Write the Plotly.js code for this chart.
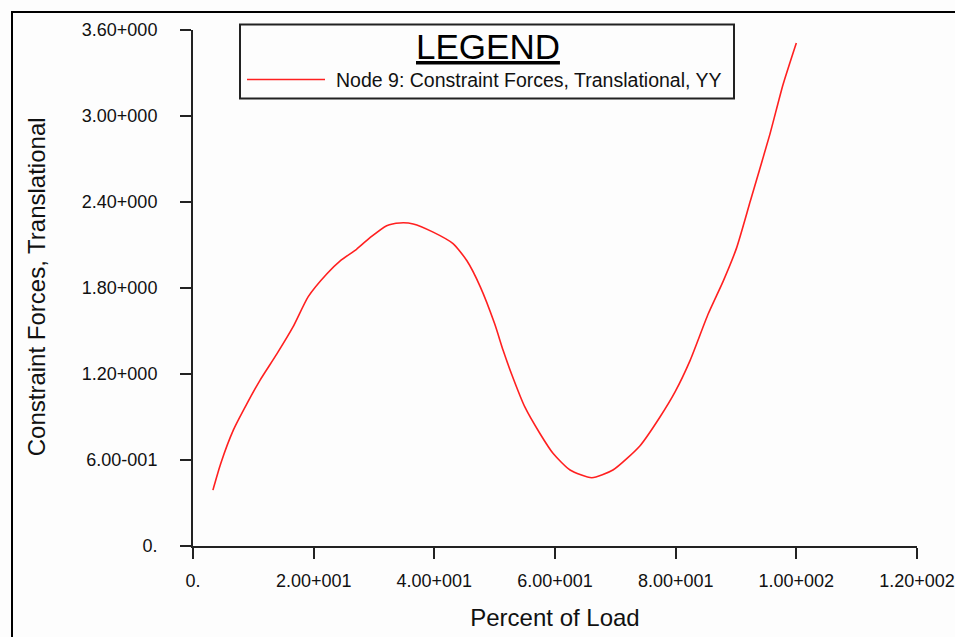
<!DOCTYPE html>
<html>
<head>
<meta charset="utf-8">
<script src="https://cdn.plot.ly/plotly-3.0.1.min.js"></script>
<style>
  html, body { margin: 0; padding: 0; background: #fdfdfd; }
  #wrap { position: relative; width: 955px; height: 637px; overflow: hidden; }
  #chart { position: absolute; left: 0; top: 0; width: 955px; height: 637px; }
  #frame { position: absolute; left: 11px; top: 11px; width: 960px; height: 640px;
           border-left: 2px solid #000; border-top: 2px solid #000; pointer-events: none; }
</style>
</head>
<body>
<div id="wrap">
  <div id="chart"></div>
  <div id="frame"></div>
</div>
<script>
// Percent of load (x) and constraint force (y)
const percentLoad = [3.3, 4.6, 6.7, 8.9, 11.1, 13.9, 16.6, 19.1, 22.2, 24.4, 27.1, 29.3, 32.1, 34.3, 36.5, 39.8, 43.1, 45.4, 47.6, 50.0, 51.4, 52.8, 55.0, 57.5, 59.7, 62.5, 66.1, 69.6, 74.1, 77.4, 79.9, 82.4, 85.4, 87.9, 90.1, 92.4, 95.6, 97.8, 100.0];
const forceYY = [0.39, 0.576, 0.81, 0.99, 1.156, 1.34, 1.53, 1.74, 1.90, 1.99, 2.07, 2.15, 2.235, 2.254, 2.247, 2.19, 2.11, 1.99, 1.81, 1.55, 1.365, 1.20, 0.97, 0.785, 0.645, 0.53, 0.476, 0.53, 0.70, 0.90, 1.075, 1.295, 1.62, 1.85, 2.08, 2.41, 2.87, 3.22, 3.51];

const seriesName = "Node 9: Constraint Forces, Translational, YY";
const xTickVals = [0, 20, 40, 60, 80, 100, 120];
const xTickText = ["0.", "2.00+001", "4.00+001", "6.00+001", "8.00+001", "1.00+002", "1.20+002"];
const yTickVals = [0, 0.6, 1.2, 1.8, 2.4, 3.0, 3.6];
const yTickText = ["0.", "6.00-001", "1.20+000", "1.80+000", "2.40+000", "3.00+000", "3.60+000"];
const xTitle = "Percent of Load";
const yTitle = "Constraint Forces, Translational";
const legendTitle = "LEGEND";

const FONT = "Liberation Sans, Arial, sans-serif";
const LINE_COLOR = "#ff2020";

// plot-area geometry (pixels) used to place the hand-drawn legend box and y title
const PL = 193, PW = 724, PB = 546, PH = 516.5;
const px = v => (v - PL) / PW;
const py = v => (PB - v) / PH;

const trace = {
  type: "scatter",
  mode: "lines",
  x: percentLoad,
  y: forceYY,
  name: seriesName,
  showlegend: false,
  line: { color: LINE_COLOR, width: 1.6, shape: "spline", smoothing: 0.6 }
};

const layout = {
  width: 955,
  height: 637,
  paper_bgcolor: "#fdfdfd",
  plot_bgcolor: "#fdfdfd",
  margin: { l: PL, r: 955 - PL - PW, t: 29.5, b: 637 - PB },
  font: { family: FONT, color: "#111" },
  showlegend: false,
  xaxis: {
    range: [0, 120], tickmode: "array", tickvals: xTickVals, ticktext: xTickText,
    showgrid: false, zeroline: false, showline: true, linecolor: "#222", linewidth: 2,
    ticks: "outside", ticklen: 11, tickwidth: 2, tickcolor: "#222",
    tickfont: { family: FONT, size: 18, color: "#111" }, ticklabelstandoff: 6,
    title: { text: xTitle, font: { family: FONT, size: 24, color: "#111" }, standoff: 20 }
  },
  yaxis: {
    range: [0, 3.6], tickmode: "array", tickvals: yTickVals, ticktext: yTickText,
    showgrid: false, zeroline: false, showline: true, linecolor: "#222", linewidth: 2,
    ticks: "outside", ticklen: 11, tickwidth: 2, tickcolor: "#222",
    tickfont: { family: FONT, size: 18, color: "#111" }, ticklabelstandoff: 19
  },
  shapes: [
    { type: "rect", xref: "paper", yref: "paper", x0: px(240), x1: px(734), y0: py(24), y1: py(98),
      line: { color: "#222", width: 2 }, fillcolor: "#fdfdfd", layer: "above" },
    { type: "line", xref: "paper", yref: "paper", x0: px(247), x1: px(325), y0: py(79), y1: py(79),
      line: { color: LINE_COLOR, width: 1.6 }, layer: "above" }
  ],
  annotations: [
    { xref: "paper", yref: "paper", x: px(488), y: py(46), xanchor: "center", yanchor: "middle",
      text: "<u>" + legendTitle + "</u>", showarrow: false,
      font: { family: FONT, size: 35, color: "#000" } },
    { xref: "paper", yref: "paper", x: px(334), y: py(80), xanchor: "left", yanchor: "middle",
      text: seriesName, showarrow: false,
      font: { family: FONT, size: 19.5, color: "#111" } },
    { xref: "paper", yref: "paper", x: px(36), y: py(287), xanchor: "center", yanchor: "middle",
      text: yTitle, textangle: -90, showarrow: false,
      font: { family: FONT, size: 24, color: "#111" } }
  ]
};

Plotly.newPlot("chart", [trace], layout, { displayModeBar: false, staticPlot: true });
</script>
</body>
</html>
